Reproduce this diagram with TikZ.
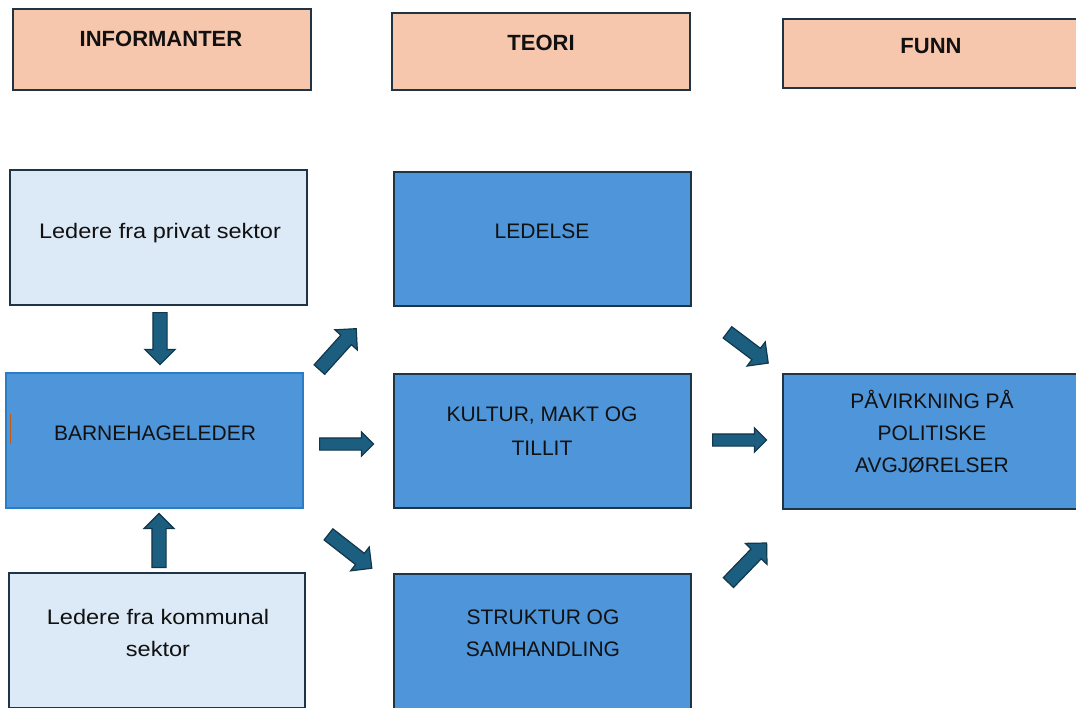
\documentclass[tikz,border=0pt]{standalone}
\usepackage{fontspec}
\setmainfont{Liberation Sans}
\newfontfamily\lowfont{Liberation Sans}[FakeStretch=1.12]
\usetikzlibrary{shapes.arrows}
\definecolor{hdrfill}{HTML}{F6C6AD}
\definecolor{lightfill}{HTML}{DCE9F6}
\definecolor{bluefill}{HTML}{4E95D9}
\definecolor{darkline}{HTML}{1F3445}
\definecolor{barnline}{HTML}{2A7CC7}
\definecolor{arrfill}{HTML}{1B5E80}
\definecolor{arrline}{HTML}{12364A}
\definecolor{cursorcol}{HTML}{C55A11}
\definecolor{txtcol}{HTML}{111111}
\newcommand\tstr{\rule{0pt}{20pt}}
\begin{document}
\begin{tikzpicture}[x=1pt,y=-1pt,
  box/.style={draw=darkline,line width=1.6pt,inner sep=0pt},
  hdrbox/.style={box,fill=hdrfill},
  lightbox/.style={box,fill=lightfill},
  bluebox/.style={box,fill=bluefill},
  hdrtxt/.style={font=\fontsize{22}{26}\selectfont\bfseries,anchor=base,inner sep=0pt,text=txtcol},
  captxt/.style={font=\fontsize{21}{32}\selectfont,inner sep=0pt,text=txtcol,align=center},
  lowtxt/.style={font=\lowfont\fontsize{21}{32}\selectfont,inner sep=0pt,text=txtcol,align=center},
  blockarrow/.style={single arrow,draw=arrline,fill=arrfill,line width=1.2pt,inner xsep=0pt,anchor=tail},
  bigarrow/.style={blockarrow,inner ysep=6.5pt,single arrow head extend=8pt},
  smallarrow/.style={blockarrow,inner ysep=5.5pt,single arrow head extend=6pt},
]
\useasboundingbox (0,0) rectangle (1076,707);
\fill[white] (0,0) rectangle (1076,707);
\clip (0,0) rectangle (1076,707);

% header boxes
\node[hdrbox,minimum width=298pt,minimum height=81pt] (hinf) at (162,49.5) {};
\node[hdrbox,minimum width=298pt,minimum height=77pt] (hteo) at (541,51.5) {};
\node[hdrbox,minimum width=297pt,minimum height=69pt] (hfun) at (931.5,53.5) {};
\node[hdrtxt] (hinft) at (161,46.5) {INFORMANTER};
\node[hdrtxt] (hteot) at (541,50.5) {TEORI};
\node[hdrtxt] (hfunt) at (931,53) {FUNN};

% column 1
\node[lightbox,minimum width=297pt,minimum height=135pt] (priv) at (158.5,237.5) {};
\node[lowtxt,anchor=base] (privt) at (160,238) {Ledere fra privat sektor};
\node[bluebox,draw=barnline,minimum width=297pt,minimum height=135pt] (barn) at (154.5,440.5) {};
\node[captxt,anchor=base] (barnt) at (155,440) {BARNEHAGELEDER};
\draw[cursorcol,line width=1pt] (10.7,414) -- (10.7,444);
\node[lightbox,minimum width=296pt,minimum height=135pt] (kom) at (157,640.5) {};
\node[lowtxt,anchor=north] (komt) at (158,604.5) {\tstr Ledere fra kommunal\\ sektor};

% column 2
\node[bluebox,minimum width=297pt,minimum height=134pt] (led) at (542.5,239) {};
\node[captxt,anchor=base] (ledt) at (542,238.5) {LEDELSE};
\node[bluebox,minimum width=297pt,minimum height=134pt] (kul) at (542.5,441) {};
\node[captxt,font=\fontsize{21}{34}\selectfont,anchor=north] (kult) at (542,401.5) {\tstr KULTUR, MAKT OG\\ TILLIT};
\node[bluebox,minimum width=297pt,minimum height=135pt] (str) at (542.5,641.5) {};
\node[captxt,anchor=north] (strt) at (543,604.5) {\tstr STRUKTUR OG\\ SAMHANDLING};

% column 3
\node[bluebox,minimum width=297pt,minimum height=135pt] (pav) at (931.5,441.5) {};
\node[captxt,anchor=north] (pavt) at (932,388.2) {\tstr PÅVIRKNING PÅ\\ POLITISKE\\ AVGJØRELSER};

% block arrows
\node[bigarrow,minimum height=52pt,rotate=-90] (a1) at (160,312) {};
\node[bigarrow,minimum height=54pt,rotate=90] (a2) at (159,568) {};
\node[bigarrow,minimum height=55pt,rotate=48] (a3) at (319,370) {};
\node[smallarrow,minimum height=54pt,rotate=0] (a4) at (319,444) {};
\node[bigarrow,minimum height=55pt,rotate=-38] (a5) at (328,534) {};
\node[bigarrow,minimum height=51pt,rotate=-37] (a6) at (727,332) {};
\node[smallarrow,minimum height=54pt,rotate=0] (a7) at (712,440) {};
\node[bigarrow,minimum height=55pt,rotate=46] (a8) at (728,583) {};
\end{tikzpicture}
\end{document}
